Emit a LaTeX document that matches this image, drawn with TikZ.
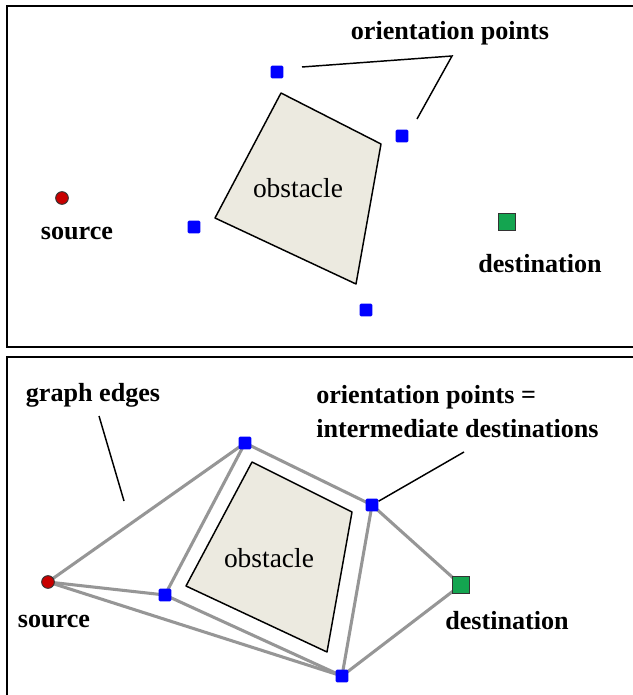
\documentclass[tikz,border=0pt]{standalone}
\usepackage{fontspec}
\setmainfont{Liberation Serif}
\usepackage{tikz}
\usetikzlibrary{positioning, backgrounds}
\definecolor{obsfill}{RGB}{236,234,224}
\definecolor{srcred}{RGB}{200,0,0}
\definecolor{dstgreen}{RGB}{20,165,80}
\definecolor{edgegray}{RGB}{150,150,150}

\begin{document}
\begin{tikzpicture}[
    x=0.75pt, y=-0.75pt,
    every node/.style={font=\fontsize{19.6}{25.5}\selectfont\bfseries, inner sep=0pt},
    frame/.style={draw=black, line width=1.5pt},
    obstacle/.style={draw=black, fill=obsfill, line width=1.1pt, line join=round},
    srcdot/.style={circle, draw=black!80, fill=srcred, line width=0.7pt, minimum size=9.5pt},
    dstbox/.style={rectangle, draw=black!80, fill=dstgreen, line width=0.6pt, minimum size=12.5pt},
    orient/.style={rectangle, rounded corners=1pt, fill=blue, minimum size=9.5pt},
    leader/.style={draw=black, line width=1.1pt},
    gedge/.style={draw=edgegray, line width=2.3pt},
    obslabel/.style={font=\fontsize{20.6}{24}\selectfont}
]
\useasboundingbox (0,0) rectangle (632,695);

% upper panel
\draw [frame] (640,6) -- (7,6) -- (7,347) -- (640,347);
\draw [obstacle] (281,93) -- (381,144) -- (356,284) -- (215,218) -- cycle;
\node (obsA) [obslabel] at (298,188) {obstacle};

\node (srcA) [srcdot] at (62,198) {};
\node (srcAlbl) at (77,233) {source};
\node (dstA) [dstbox] at (507,222) {};
\node (dstAlbl) at (540,264) {destination};

\node (opA1) [orient] at (277,72) {};
\node (opA2) [orient] at (402,136) {};
\node (opA3) [orient] at (194,227) {};
\node (opA4) [orient] at (366,310) {};

\node (opAlbl) at (450,33) {orientation points};
\coordinate (tipA1) at (302,67);
\coordinate (tipApex) at (452,56);
\coordinate (tipA2) at (417,119);
\draw [leader] (tipA1) -- (tipApex) -- (tipA2);

% lower panel
\draw [frame] (640,357) -- (7,357) -- (7,700);
\draw [obstacle] (252,462) -- (352,512) -- (327,652) -- (186,586) -- cycle;
\node (obsB) [obslabel] at (269,558) {obstacle};

\node (srcB) [srcdot] at (48,582) {};
\node (srcBlbl) at (54,621) {source};
\node (dstB) [dstbox] at (461,585) {};
\node (dstBlbl) at (507,621) {destination};

\node (opB1) [orient] at (245,443) {};
\node (opB2) [orient] at (372,505) {};
\node (opB3) [orient] at (165,595) {};
\node (opB4) [orient] at (342,676) {};

\begin{scope}[on background layer]
\draw [gedge] (srcB.center) -- (opB1.center);
\draw [gedge] (srcB.center) -- (opB3.center);
\draw [gedge] (srcB.center) -- (opB4.center);
\draw [gedge] (opB3.center) -- (opB1.center);
\draw [gedge] (opB3.center) -- (opB4.center);
\draw [gedge] (opB1.center) -- (opB2.center);
\draw [gedge] (opB2.center) -- (opB4.center);
\draw [gedge] (opB2.center) -- (dstB.center);
\draw [gedge] (opB4.center) -- (dstB.center);
\end{scope}

\node (edgelbl) at (93,395) {graph edges};
\coordinate (tipE1) at (99,416);
\coordinate (tipE2) at (124,501);
\draw [leader] (tipE1) -- (tipE2);

\node (opBlbl) [anchor=west, align=left] at (316,412) {orientation points =\\intermediate destinations};
\coordinate (tipB) at (464,452);
\draw [leader] (tipB) -- (opB2);
\end{tikzpicture}
\end{document}
